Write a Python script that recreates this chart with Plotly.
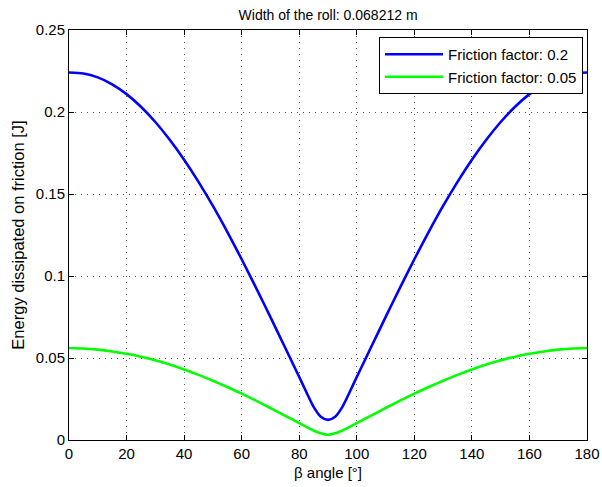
import plotly.graph_objects as go

beta_deg = [0, 5, 10, 15, 20, 25, 30, 35, 40, 45, 50, 55, 60, 65, 70, 75, 80, 82.5, 85, 87.5, 90,
            92.5, 95, 97.5, 100, 105, 110, 115, 120, 125, 130, 135, 140, 145, 150, 155, 160, 165, 170, 175, 180]

energy_f02 = [0.2241, 0.2235, 0.2211, 0.2169, 0.2109, 0.2032, 0.1939, 0.1831, 0.1709, 0.1574, 0.1427,
              0.1269, 0.1102, 0.0928, 0.0749, 0.0567, 0.0384, 0.0291, 0.0202, 0.0142, 0.0123,
              0.0142, 0.0202, 0.0291, 0.0384, 0.0567, 0.0749, 0.0928, 0.1102, 0.1269, 0.1427,
              0.1574, 0.1709, 0.1831, 0.1939, 0.2032, 0.2109, 0.2169, 0.2211, 0.2235, 0.2241]

energy_f005 = [0.0561, 0.0558, 0.0551, 0.0540, 0.0526, 0.0508, 0.0486, 0.0460, 0.0430, 0.0397, 0.0361,
               0.0323, 0.0283, 0.0240, 0.0195, 0.0149, 0.0103, 0.0080, 0.0058, 0.0041, 0.0032,
               0.0041, 0.0058, 0.0080, 0.0103, 0.0149, 0.0195, 0.0240, 0.0283, 0.0323, 0.0361,
               0.0397, 0.0430, 0.0460, 0.0486, 0.0508, 0.0526, 0.0540, 0.0551, 0.0558, 0.0561]

x_ticks = [0, 20, 40, 60, 80, 100, 120, 140, 160, 180]
y_ticks = [0, 0.05, 0.1, 0.15, 0.2, 0.25]
y_ticklabels = ["0", "0.05", "0.1", "0.15", "0.2", "0.25"]

FONT = "Liberation Sans, Arial, sans-serif"

fig = go.Figure()
fig.add_trace(go.Scatter(x=beta_deg, y=energy_f02, mode="lines",
                         name="Friction factor: 0.2",
                         line=dict(color="#0000FF", width=2.6, shape="spline", smoothing=0.7)))
fig.add_trace(go.Scatter(x=beta_deg, y=energy_f005, mode="lines",
                         name="Friction factor: 0.05",
                         line=dict(color="#00FF00", width=2.6, shape="spline", smoothing=0.7)))

axis_common = dict(
    showline=True, linecolor="black", linewidth=1, mirror="ticks",
    ticks="inside", ticklen=5, tickcolor="black", tickwidth=1,
    showgrid=True, gridcolor="#555555", griddash="1px,5px", gridwidth=1,
    zeroline=False, automargin=False,
    tickfont=dict(family=FONT, size=15, color="black"),
)

fig.update_xaxes(range=[0, 180], tickvals=x_ticks,
                 title=dict(text="β angle [°]", font=dict(family=FONT, size=15, color="black"), standoff=6),
                 **axis_common)
fig.update_yaxes(range=[0, 0.25], tickvals=y_ticks, ticktext=y_ticklabels,
                 title=dict(text="Energy dissipated on friction [J]", font=dict(family=FONT, size=16.5, color="black"), standoff=7),
                 **axis_common)

fig.update_layout(
    width=602, height=487,
    margin=dict(l=69, r=15, t=30, b=47),
    paper_bgcolor="white", plot_bgcolor="white",
    font=dict(family=FONT, size=15, color="black"),
    title=dict(text="Width of the roll: 0.068212 m", x=0.545, xanchor="center",
               y=0.970, yanchor="middle", font=dict(family=FONT, size=14, color="black")),
    legend=dict(x=0.9923, y=0.983, xanchor="right", yanchor="top",
                bgcolor="white", bordercolor="black", borderwidth=1,
                font=dict(family=FONT, size=15, color="black"),
                tracegroupgap=0, itemwidth=58),
    showlegend=True,
)

fig.write_html("out.html",
               config={"displayModeBar": False},
               post_script="document.body.style.margin='0px';document.body.style.overflow='hidden';")
